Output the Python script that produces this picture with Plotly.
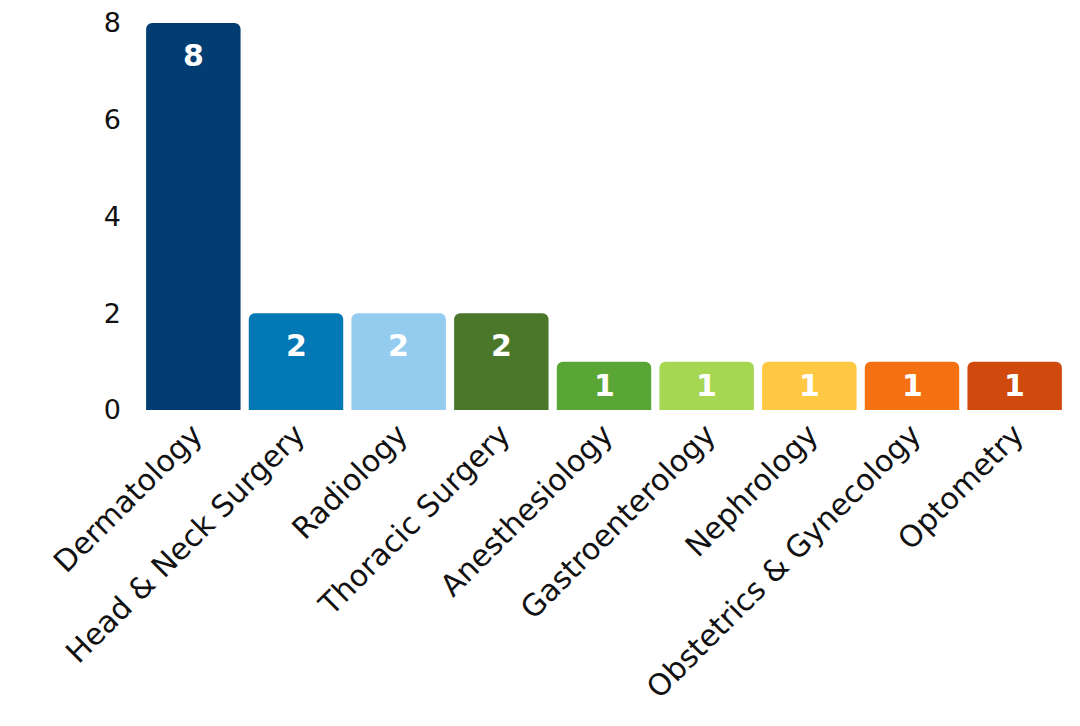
import plotly.graph_objects as go

specialties = ["Dermatology", "Head & Neck Surgery", "Radiology", "Thoracic Surgery",
               "Anesthesiology", "Gastroenterology", "Nephrology",
               "Obstetrics & Gynecology", "Optometry"]
counts = [8, 2, 2, 2, 1, 1, 1, 1, 1]
bar_colors = ["#023D72", "#0278B5", "#94CCF0", "#4A772A", "#59A535",
              "#A5D752", "#FFC843", "#F37111", "#D14A0D"]
y_ticks = [0, 2, 4, 6, 8]

FONT = "DejaVu Sans"
# page is drawn with an 8px body offset, so margins are shifted accordingly
m_top, m_bottom = 15, 324
px_per_unit = (726 - m_top - m_bottom) / 8

fig = go.Figure()
fig.add_trace(go.Bar(
    x=specialties,
    y=counts,
    marker=dict(color=bar_colors, line=dict(width=0)),
    hoverinfo="x+y",
))

# value labels just under the top of each bar
for name, v in zip(specialties, counts):
    shift = min(32, v * px_per_unit / 2)
    fig.add_annotation(
        x=name, y=v, text="<b>%d</b>" % v, showarrow=False,
        yshift=-shift, yanchor="middle",
        font=dict(family=FONT, size=30, color="white"),
    )

fig.update_layout(
    width=1080, height=726,
    margin=dict(l=134, r=22, t=m_top, b=m_bottom),
    plot_bgcolor="white", paper_bgcolor="white",
    bargap=0.08,
    barcornerradius=6,
    showlegend=False,
    xaxis=dict(tickangle=-45, showgrid=False, zeroline=False, showline=False,
               automargin=False, ticks="", ticklabeloverflow="allow",
               tickfont=dict(family=FONT, size=30, color="#111111")),
    yaxis=dict(range=[0, 8], tickvals=y_ticks, showgrid=False, zeroline=False,
               showline=False, ticks="", ticklabelstandoff=20, automargin=False,
               ticklabeloverflow="allow",
               tickfont=dict(family=FONT, size=27, color="#111111")),
)

fig.write_html("out.html")
